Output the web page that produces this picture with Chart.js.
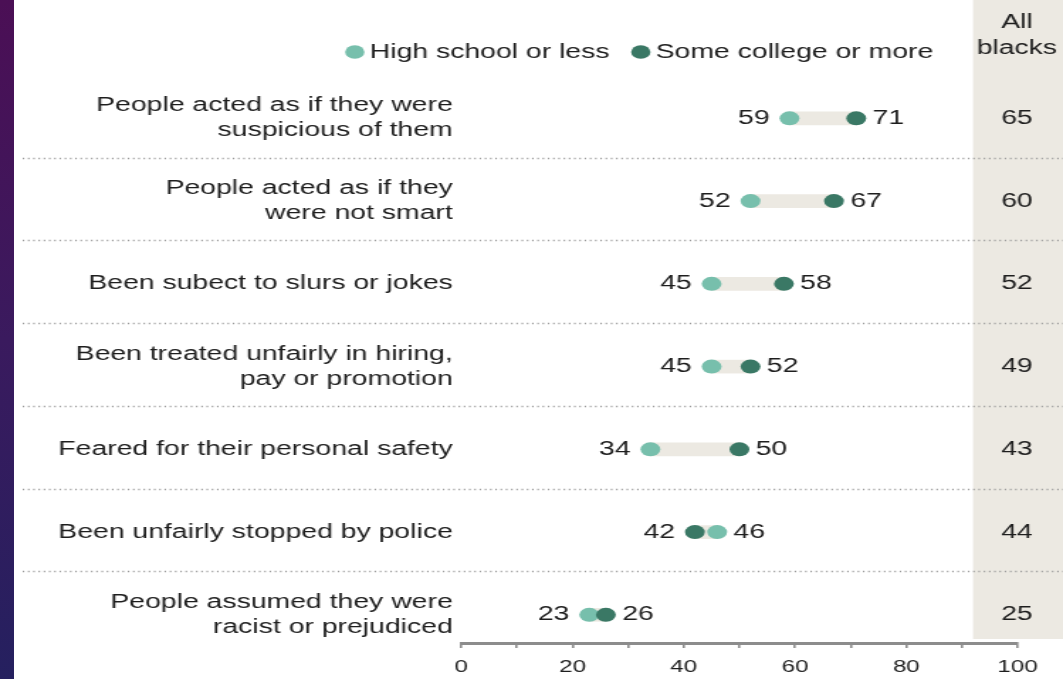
<!DOCTYPE html>
<html>
<head>
<meta charset="utf-8">
<script src="https://cdn.jsdelivr.net/npm/chart.js@4/dist/chart.umd.min.js"></script>
<style>
  html, body { margin: 0; padding: 0; background: #ffffff; }
  #wrap { position: relative; width: 1063px; height: 679px; overflow: hidden; background: #fff; }
  #strip { position: absolute; left: 0; top: 0; width: 14px; height: 679px;
           background: linear-gradient(to bottom, #4b0f55 0%, #3a1a5e 50%, #25205f 100%); z-index: 2; }
  #stretch { position: absolute; left: 0; top: 0; width: 749px; height: 679px;
             transform: scaleX(1.4192); transform-origin: 0 0; }
  canvas { display: block; }
</style>
</head>
<body>
<div id="wrap">
  <div id="strip"></div>
  <div id="stretch"><canvas id="c" width="749" height="679"></canvas></div>
</div>
<script>
// ---- data ----
const categories = [
  ['People acted as if they were', 'suspicious of them'],
  ['People acted as if they', 'were not smart'],
  ['Been subect to slurs or jokes'],
  ['Been treated unfairly in hiring,', 'pay or promotion'],
  ['Feared for their personal safety'],
  ['Been unfairly stopped by police'],
  ['People assumed they were', 'racist or prejudiced']
];
const highSchoolOrLess = [59, 52, 45, 45, 34, 46, 23];
const someCollegeOrMore = [71, 67, 58, 52, 50, 42, 26];
const allBlacks = [65, 60, 52, 49, 43, 44, 25];
const seriesNames = ['High school or less', 'Some college or more'];
const xTickValues = [0, 20, 40, 60, 80, 100];
const columnHeader = ['All', 'blacks'];

const LIGHT = '#77bfac';
const DARK = '#3a7865';
const BAND = '#ece9e2';
const TEXT = '#1e1e1e';
const FONT = "'Liberation Sans', Arial, sans-serif";

const connectorData = categories.map((_, i) => ({
  y: i,
  x: [Math.min(highSchoolOrLess[i], someCollegeOrMore[i]), Math.max(highSchoolOrLess[i], someCollegeOrMore[i])]
}));
const lightData = highSchoolOrLess.map((v, i) => ({ x: v, y: i }));
const darkData = someCollegeOrMore.map((v, i) => ({ x: v, y: i }));

const decor = {
  id: 'decor',
  beforeDraw(chart) {
    const { ctx, scales: { x } } = chart;
    ctx.save();
    ctx.fillStyle = '#ffffff';
    ctx.fillRect(0, 0, chart.width, chart.height);
    const bx = x.getPixelForValue(92);
    ctx.fillStyle = BAND;
    ctx.fillRect(bx, 0, chart.width - bx, chart.chartArea.bottom - 4);
    ctx.restore();
  },
  beforeDatasetsDraw(chart) {
    const { ctx, scales: { y } } = chart;
    ctx.save();
    ctx.strokeStyle = '#9a9a9a';
    ctx.lineWidth = 1.6;
    ctx.setLineDash([1.1, 2.6]);
    for (let i = 0; i < categories.length - 1; i++) {
      const yy = Math.round((y.getPixelForValue(i) + y.getPixelForValue(i + 1)) / 2 - 2) + 0.5;
      ctx.beginPath();
      ctx.moveTo(16, yy);
      ctx.lineTo(chart.width, yy);
      ctx.stroke();
    }
    ctx.restore();
  },
  afterDraw(chart) {
    const { ctx, scales: { y } } = chart;
    ctx.save();
    ctx.font = '20px ' + FONT;
    ctx.fillStyle = TEXT;
    ctx.textBaseline = 'middle';
    const m1 = chart.getDatasetMeta(1).data;
    const m2 = chart.getDatasetMeta(2).data;
    const colX = 716.5;
    for (let i = 0; i < categories.length; i++) {
      const a = highSchoolOrLess[i], b = someCollegeOrMore[i];
      const pa = m1[i], pb = m2[i];
      const lo = a <= b ? { v: a, p: pa } : { v: b, p: pb };
      const hi = a <= b ? { v: b, p: pb } : { v: a, p: pa };
      ctx.textAlign = 'right';
      ctx.fillText(String(lo.v), lo.p.x - 14, lo.p.y);
      ctx.textAlign = 'left';
      ctx.fillText(String(hi.v), hi.p.x + 11.5, hi.p.y);
      ctx.textAlign = 'center';
      ctx.fillText(String(allBlacks[i]), colX, y.getPixelForValue(i));
    }
    ctx.textAlign = 'center';
    ctx.fillText(columnHeader[0], colX, 22);
    ctx.fillText(columnHeader[1], colX, 48);
    const legend = [
      { name: seriesNames[0], color: LIGHT, cx: 250 },
      { name: seriesNames[1], color: DARK, cx: 451.5 }
    ];
    legend.forEach(l => {
      ctx.fillStyle = l.color;
      ctx.beginPath();
      ctx.arc(l.cx, 52, 6.8, 0, Math.PI * 2);
      ctx.fill();
      ctx.fillStyle = TEXT;
      ctx.textAlign = 'left';
      ctx.fillText(l.name, l.cx + 10.5, 52);
    });
    ctx.restore();
  }
};

new Chart(document.getElementById('c'), {
  type: 'bar',
  data: {
    datasets: [
      {
        type: 'bar', label: 'range', data: connectorData, indexAxis: 'y',
        backgroundColor: BAND, barThickness: 13, borderWidth: 0, order: 3
      },
      {
        type: 'line', label: seriesNames[0], data: lightData, indexAxis: 'y', showLine: false,
        pointRadius: 7, pointHoverRadius: 7, pointBackgroundColor: LIGHT, pointBorderWidth: 0,
        borderColor: LIGHT, order: 2
      },
      {
        type: 'line', label: seriesNames[1], data: darkData, indexAxis: 'y', showLine: false,
        pointRadius: 7, pointHoverRadius: 7, pointBackgroundColor: DARK, pointBorderWidth: 0,
        borderColor: DARK, order: 1
      }
    ]
  },
  options: {
    indexAxis: 'y',
    responsive: false,
    animation: false,
    layout: { padding: { top: 77, right: 32, left: 0, bottom: 0 } },
    plugins: { legend: { display: false }, tooltip: { enabled: false } },
    scales: {
      x: {
        type: 'linear', min: 0, max: 100,
        border: { display: true, color: '#8c8c8c', width: 3 },
        grid: { drawOnChartArea: false, drawTicks: true, tickLength: 5, color: '#8c8c8c', lineWidth: 1.6 },
        ticks: {
          stepSize: 10, autoSkip: false, maxRotation: 0, padding: 9,
          color: TEXT, font: { family: FONT, size: 17 },
          callback: v => (xTickValues.includes(v) ? String(v) : '')
        },
        afterFit: s => { s.height = 36; }
      },
      y: {
        type: 'linear', min: -0.5, max: 6.34, reverse: true, offset: false, bounds: 'data',
        border: { display: false },
        grid: { display: false, drawTicks: false, offset: false },
        afterBuildTicks: s => { s.ticks = categories.map((_, i) => ({ value: i })); },
        ticks: {
          autoSkip: false, padding: 6, crossAlign: 'near',
          color: TEXT, font: { family: FONT, size: 20, lineHeight: 1.25 },
          callback: (v) => categories[v] || ''
        },
        afterFit: s => { s.width = 325; }
      }
    }
  },
  plugins: [decor]
});
</script>
</body>
</html>
